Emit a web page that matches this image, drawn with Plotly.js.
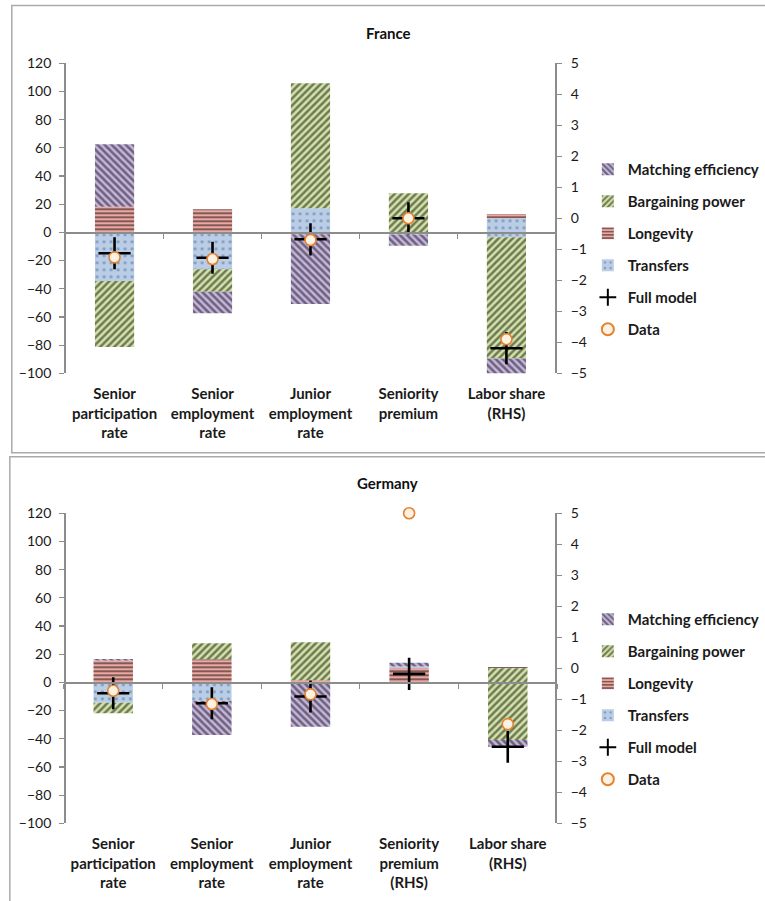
<!DOCTYPE html>
<html>
<head>
<meta charset="utf-8">
<script src="https://cdn.plot.ly/plotly-3.0.1.min.js"></script>
<style>
html,body{margin:0;padding:0;background:#fff;overflow:hidden;width:765px;height:901px;}
#chart{width:765px;height:901px;overflow:hidden;}
</style>
</head>
<body>
<div id="chart"></div>
<script>
// ---------- data ----------
const categoriesFR = ["Senior<br>participation<br>rate", "Senior<br>employment<br>rate", "Junior<br>employment<br>rate", "Seniority<br>premium", "Labor share<br>(RHS)"];
const rhsFR = [false, false, false, false, true];
const matchingFR   = [44.3, -15.3, -49.5, -8.0, -0.50];
const bargainingFR = [-46.8, -15.9, 88.7, 27.7, -3.91];
const longevityFR  = [18.2, 16.4, -1.3, 0, 0.14];
const transfersFR  = [-34.5, -26.2, 17.1, -1.5, -0.61];
const fullModelFR  = [-14.8, -18.0, -4.9, 10.0, -4.19];
const dataFR       = [-17.7, -18.9, -5.4, 10.0, -3.90];

const categoriesDE = ["Senior<br>participation<br>rate", "Senior<br>employment<br>rate", "Junior<br>employment<br>rate", "Seniority<br>premium<br>(RHS)", "Labor share<br>(RHS)"];
const rhsDE = [false, false, false, true, true];
const matchingDE   = [1.0, -24.3, -31.4, 0.12, -0.22];
const bargainingDE = [-7.5, 11.3, 27.0, 0, -2.31];
const longevityDE  = [15.6, 16.4, 1.5, -0.48, 0.04];
const transfersDE  = [-14.4, -13.0, 0, 0.06, 0];
const fullModelDE  = [-7.7, -14.8, -10.0, -0.18, -2.53];
const dataDE       = [-5.9, -15.3, -8.5, 5.0, -1.80];

const leftRange = [-100, 120];
const rightRange = [-5, 5];
const leftTicks = [-100, -80, -60, -40, -20, 0, 20, 40, 60, 80, 100, 120];
const rightTicks = [-5, -4, -3, -2, -1, 0, 1, 2, 3, 4, 5];

// ---------- styles ----------
const FONT = "Lato, 'Open Sans', sans-serif";
const GREY = "#8c8c8c";
const styles = {
  "Transfers":          {rank: 4, shape: ".",  bg: "#b9cde6", fg: "#4f6890", size: 7, solidity: 0.16},
  "Longevity":          {rank: 3, shape: "-",  bg: "#eaa9a2", fg: "#1a0a0a", size: 4, solidity: 0.5},
  "Bargaining power":   {rank: 2, shape: "/",  bg: "#d3e3a8", fg: "#0c1006", size: 5, solidity: 0.5},
  "Matching efficiency":{rank: 1, shape: "\\", bg: "#c7b6dc", fg: "#12101c", size: 5, solidity: 0.52}
};

function pick(vals, flags, wantRhs) {
  return vals.map((v, i) => (flags[i] === wantRhs ? v : null));
}

function panelTraces(p) {
  const traces = [];
  const comps = [["Transfers", p.transfers], ["Longevity", p.longevity], ["Bargaining power", p.bargaining], ["Matching efficiency", p.matching]];
  comps.forEach(([name, vals]) => {
    const s = styles[name];
    [false, true].forEach(rhs => {
      traces.push({
        type: "bar", name: name, x: p.categories, y: pick(vals, p.rhs, rhs),
        xaxis: p.xa, yaxis: rhs ? p.ya2 : p.ya, width: 0.4,
        legend: p.legend, legendgroup: p.legend + name, legendrank: s.rank,
        showlegend: !rhs, hoverinfo: "skip",
        marker: {color: s.bg, line: {width: 0},
          pattern: {shape: s.shape, bgcolor: s.bg, fgcolor: s.fg, size: s.size, solidity: s.solidity, fillmode: "overlay"}}
      });
    });
  });
  [false, true].forEach(rhs => {
    traces.push({
      type: "scatter", mode: "markers", name: "Full model", x: p.categories, y: pick(p.full, p.rhs, rhs),
      xaxis: p.xa, yaxis: rhs ? p.ya2 : p.ya, legend: p.legend, legendgroup: p.legend + "full", legendrank: 5,
      showlegend: !rhs, hoverinfo: "skip", cliponaxis: false,
      marker: {symbol: "cross-thin", size: 23, color: "#000", line: {color: "#000", width: 2.6}}
    });
  });
  [false, true].forEach(rhs => {
    traces.push({
      type: "scatter", mode: "markers", name: "Data", x: p.categories, y: pick(p.data, p.rhs, rhs),
      xaxis: p.xa, yaxis: rhs ? p.ya2 : p.ya, legend: p.legend, legendgroup: p.legend + "data", legendrank: 6,
      showlegend: !rhs, hoverinfo: "skip", cliponaxis: false,
      marker: {symbol: "circle", size: 11, color: "#fdf1e4", line: {color: "#e3832f", width: 1.6}}
    });
  });
  // carrier for the zero-level category axis (tick marks on the zero line)
  traces.push({type: "scatter", mode: "markers", x: p.categories, y: p.categories.map(() => null),
    xaxis: p.xz, yaxis: p.ya, showlegend: false, hoverinfo: "skip"});
  return traces;
}

const FR = {categories: categoriesFR, rhs: rhsFR, matching: matchingFR, bargaining: bargainingFR,
  longevity: longevityFR, transfers: transfersFR, full: fullModelFR, data: dataFR,
  xa: "x", ya: "y", ya2: "y2", xz: "x3", legend: "legend"};
const DE = {categories: categoriesDE, rhs: rhsDE, matching: matchingDE, bargaining: bargainingDE,
  longevity: longevityDE, transfers: transfersDE, full: fullModelDE, data: dataDE,
  xa: "x2", ya: "y3", ya2: "y4", xz: "x4", legend: "legend2"};

const traces = panelTraces(FR).concat(panelTraces(DE));

// ---------- layout ----------
const W = 765, H = 901;
const frDomX = [66.7 / W, 565 / W], frDomY = [1 - 373.3 / H, 1 - 63.3 / H];
const deDomX = [65 / W, 566.7 / W], deDomY = [1 - 823.3 / H, 1 - 513.3 / H];
function zeroPos(dom) { return dom[0] + (0 - leftRange[0]) / (leftRange[1] - leftRange[0]) * (dom[1] - dom[0]); }

function yLeft(dom) {
  return {domain: dom, range: leftRange, tickvals: leftTicks, showgrid: false, zeroline: false,
    showline: true, linecolor: GREY, linewidth: 1.5, ticks: "outside", ticklen: 5, tickcolor: GREY, tickwidth: 1.2,
    ticklabelstandoff: 5, tickfont: {family: FONT, size: 14, color: "#1a1a1a"}, fixedrange: true};
}
function yRight(overlay) {
  return {overlaying: overlay, side: "right", range: rightRange, tickvals: rightTicks, showgrid: false, zeroline: false,
    showline: true, linecolor: GREY, linewidth: 1.5, ticks: "outside", ticklen: 5, tickcolor: GREY, tickwidth: 1.2,
    ticklabelstandoff: 6, tickfont: {family: FONT, size: 14, color: "#1a1a1a"}, fixedrange: true};
}
function xMain(dom, anchor, cats) {
  return {domain: dom, anchor: anchor, type: "category", range: [-0.5, cats.length - 0.5], autorange: false,
    showgrid: false, zeroline: false, showline: false,
    ticks: "", ticklabelstandoff: 10, tickfont: {family: FONT, size: 15, color: "#1a1a1a", weight: "bold"}, fixedrange: true};
}
function xZero(main, dom) {
  return {overlaying: main, matches: main, anchor: "free", position: zeroPos(dom), type: "category",
    showgrid: false, zeroline: false, showline: true, linecolor: GREY, linewidth: 1.5,
    ticks: "outside", tickson: "boundaries", ticklen: 5, tickcolor: GREY, tickwidth: 1.2, showticklabels: false, fixedrange: true};
}
function legendAt(yTop) {
  return {x: 598 / W, xanchor: "left", y: 1 - yTop / H, yanchor: "top", bgcolor: "rgba(0,0,0,0)",
    font: {family: FONT, size: 15, color: "#1a1a1a", weight: "bold"}, tracegroupgap: 9.5, itemsizing: "constant", itemwidth: 30};
}

const layout = {
  width: W, height: H, margin: {l: 0, r: 0, t: 0, b: 0}, paper_bgcolor: "#fff", plot_bgcolor: "rgba(0,0,0,0)",
  barmode: "relative", bargap: 0.6, showlegend: true, hovermode: false,
  xaxis: xMain(frDomX, "y", categoriesFR), yaxis: yLeft(frDomY), yaxis2: yRight("y"), xaxis3: xZero("x", frDomY),
  xaxis2: xMain(deDomX, "y3", categoriesDE), yaxis3: yLeft(deDomY), yaxis4: yRight("y3"), xaxis4: xZero("x2", deDomY),
  legend: legendAt(153), legend2: legendAt(603),
  annotations: [
    {text: "France", x: 395 / W, y: 1 - 33 / H, xref: "paper", yref: "paper", showarrow: false, yanchor: "middle",
      font: {family: FONT, size: 15, color: "#111", weight: "bold"}},
    {text: "Germany", x: 394 / W, y: 1 - 483 / H, xref: "paper", yref: "paper", showarrow: false, yanchor: "middle",
      font: {family: FONT, size: 15, color: "#111", weight: "bold"}}
  ],
  shapes: [
    {type: "rect", xref: "paper", yref: "paper", x0: 12 / W, x1: 1.05, y0: 1 - 452.7 / H, y1: 1 - 5.5 / H,
      line: {color: "#aaaaaa", width: 1.5}},
    {type: "rect", xref: "paper", yref: "paper", x0: 10 / W, x1: 1.05, y0: -0.05, y1: 1 - 456.7 / H,
      line: {color: "#aaaaaa", width: 1.5}}
  ]
};

Plotly.newPlot("chart", traces, layout, {staticPlot: true, displayModeBar: false});
</script>
</body>
</html>
